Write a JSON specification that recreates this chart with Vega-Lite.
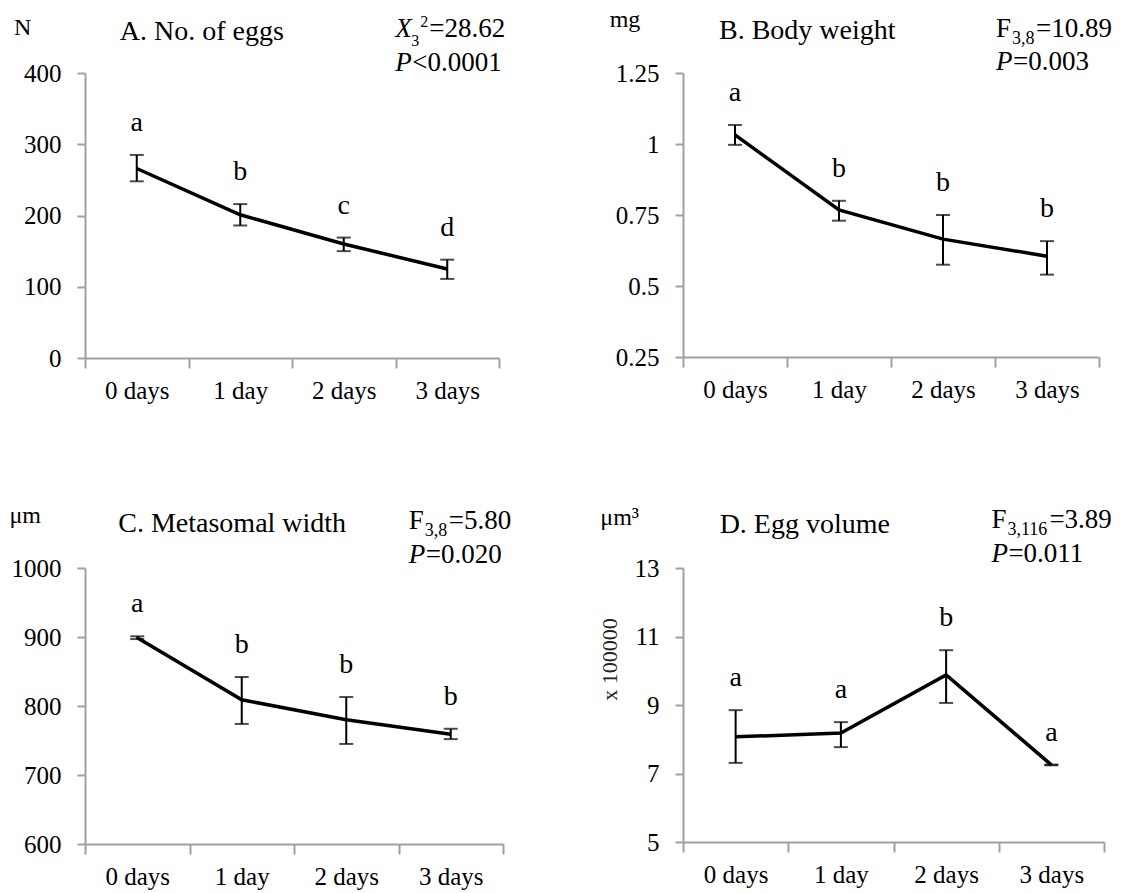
{
  "$schema": "https://vega.github.io/schema/vega-lite/v6.json",
  "background": "white",
  "autosize": {"type": "pad"},
  "padding": {"left": 9, "top": 8, "right": 5, "bottom": 5},
  "columns": 2,
  "align": "none",
  "bounds": "flush",
  "spacing": {"row": 210, "column": 180},
  "config": {
    "font": "Liberation Serif, Times New Roman, Times, serif",
    "view": {"stroke": null},
    "axis": {
      "domainColor": "#a0a0a0", "tickColor": "#a0a0a0", "domainWidth": 2, "tickWidth": 2,
      "labelFont": "Liberation Serif, Times New Roman, Times, serif", "labelFontSize": 25, "labelColor": "#000", "grid": false
    },
    "axisX": {"tickSize": 10, "labelPadding": 10, "labelAngle": 0, "tickBand": "extent"},
    "axisY": {"tickSize": 8, "labelPadding": 16},
    "mark": {"font": "Liberation Serif, Times New Roman, Times, serif"},
    "text": {"font": "Liberation Serif, Times New Roman, Times, serif", "color": "#000"}
  },
  "concat": [
    {
      "width": 414, "height": 285,
      "encoding": {"x": {"field": "day", "type": "ordinal", "scale": {"domain": ["0 days", "1 day", "2 days", "3 days"], "paddingInner": 0, "paddingOuter": 0}, "axis": {"title": null}}},
      "layer": [
        {
          "data": {"values": [
            {"day": "0 days", "mean": 266, "lo": 248, "hi": 285, "grp": "a"},
            {"day": "1 day", "mean": 201, "lo": 186, "hi": 216, "grp": "b"},
            {"day": "2 days", "mean": 160, "lo": 150, "hi": 169, "grp": "c"},
            {"day": "3 days", "mean": 125, "lo": 111, "hi": 138, "grp": "d"}
          ]},
          "layer": [
            {"mark": {"type": "line", "color": "#000", "strokeWidth": 3.5},
             "encoding": {"y": {"field": "mean", "type": "quantitative", "title": null, "scale": {"domain": [0, 400], "nice": false, "zero": false}, "axis": {"values": [0, 100, 200, 300, 400], "format": "d"}}}},
            {"mark": {"type": "rule", "color": "#000", "strokeWidth": 2},
             "encoding": {"y": {"field": "lo", "type": "quantitative", "title": null}, "y2": {"field": "hi"}}},
            {"mark": {"type": "tick", "color": "#000", "thickness": 2, "size": 14},
             "encoding": {"y": {"field": "lo", "type": "quantitative", "title": null}}},
            {"mark": {"type": "tick", "color": "#000", "thickness": 2, "size": 14},
             "encoding": {"y": {"field": "hi", "type": "quantitative", "title": null}}},
            {"mark": {"type": "text", "font": "Liberation Serif, Times New Roman, Times, serif", "fontSize": 28, "baseline": "alphabetic", "dy": -24},
             "encoding": {"y": {"field": "hi", "type": "quantitative", "title": null}, "text": {"field": "grp"}}}
          ]
        },
        {
          "data": {"values": [{"title": "A. No. of eggs", "unit": "N", "sym": "X", "sub": "3", "sup": "2", "stat": "=28.62", "pv": "<0.0001"}]},
          "layer": [
            {"mark": {"type": "text", "font": "Liberation Serif, Times New Roman, Times, serif", "align": "left", "baseline": "alphabetic", "fontSize": 28, "dx": -17, "dy": -33},
             "encoding": {"x": {"datum": "0 days", "type": "ordinal"}, "y": {"datum": 400}, "text": {"field": "title"}}},
            {"mark": {"type": "text", "font": "Liberation Serif, Times New Roman, Times, serif", "align": "center", "baseline": "alphabetic", "fontSize": 24, "dx": -114, "dy": -38},
             "encoding": {"x": {"datum": "0 days", "type": "ordinal"}, "y": {"datum": 400}, "text": {"field": "unit"}}},
            {"mark": {"type": "text", "font": "Liberation Serif, Times New Roman, Times, serif", "align": "left", "baseline": "alphabetic", "fontSize": 27, "fontStyle": "italic", "dx": -52, "dy": -36},
             "encoding": {"x": {"datum": "3 days", "type": "ordinal"}, "y": {"datum": 400}, "text": {"field": "sym"}}},
            {"mark": {"type": "text", "font": "Liberation Serif, Times New Roman, Times, serif", "align": "left", "baseline": "alphabetic", "fontSize": 16, "dx": -36, "dy": -27},
             "encoding": {"x": {"datum": "3 days", "type": "ordinal"}, "y": {"datum": 400}, "text": {"field": "sub"}}},
            {"mark": {"type": "text", "font": "Liberation Serif, Times New Roman, Times, serif", "align": "left", "baseline": "alphabetic", "fontSize": 16, "dx": -27, "dy": -46},
             "encoding": {"x": {"datum": "3 days", "type": "ordinal"}, "y": {"datum": 400}, "text": {"field": "sup"}}},
            {"mark": {"type": "text", "font": "Liberation Serif, Times New Roman, Times, serif", "align": "left", "baseline": "alphabetic", "fontSize": 27, "dx": -18, "dy": -36},
             "encoding": {"x": {"datum": "3 days", "type": "ordinal"}, "y": {"datum": 400}, "text": {"field": "stat"}}},
            {"mark": {"type": "text", "font": "Liberation Serif, Times New Roman, Times, serif", "align": "left", "baseline": "alphabetic", "fontSize": 27, "fontStyle": "italic", "dx": -52, "dy": -2},
             "encoding": {"x": {"datum": "3 days", "type": "ordinal"}, "y": {"datum": 400}, "text": {"value": "P"}}},
            {"mark": {"type": "text", "font": "Liberation Serif, Times New Roman, Times, serif", "align": "left", "baseline": "alphabetic", "fontSize": 27, "dx": -35, "dy": -2},
             "encoding": {"x": {"datum": "3 days", "type": "ordinal"}, "y": {"datum": 400}, "text": {"field": "pv"}}}
          ]
        }
      ]
    },
    {
      "width": 416, "height": 284,
      "encoding": {"x": {"field": "day", "type": "ordinal", "scale": {"domain": ["0 days", "1 day", "2 days", "3 days"], "paddingInner": 0, "paddingOuter": 0}, "axis": {"title": null}}},
      "layer": [
        {
          "data": {"values": [
            {"day": "0 days", "mean": 1.032, "lo": 0.997, "hi": 1.067, "grp": "a"},
            {"day": "1 day", "mean": 0.768, "lo": 0.73, "hi": 0.8, "grp": "b"},
            {"day": "2 days", "mean": 0.665, "lo": 0.575, "hi": 0.75, "grp": "b"},
            {"day": "3 days", "mean": 0.605, "lo": 0.54, "hi": 0.658, "grp": "b"}
          ]},
          "layer": [
            {"mark": {"type": "line", "color": "#000", "strokeWidth": 3.5},
             "encoding": {"y": {"field": "mean", "type": "quantitative", "title": null, "scale": {"domain": [0.25, 1.25], "nice": false, "zero": false}, "axis": {"values": [0.25, 0.5, 0.75, 1, 1.25], "format": ".3~g"}}}},
            {"mark": {"type": "rule", "color": "#000", "strokeWidth": 2},
             "encoding": {"y": {"field": "lo", "type": "quantitative", "title": null}, "y2": {"field": "hi"}}},
            {"mark": {"type": "tick", "color": "#000", "thickness": 2, "size": 14},
             "encoding": {"y": {"field": "lo", "type": "quantitative", "title": null}}},
            {"mark": {"type": "tick", "color": "#000", "thickness": 2, "size": 14},
             "encoding": {"y": {"field": "hi", "type": "quantitative", "title": null}}},
            {"mark": {"type": "text", "font": "Liberation Serif, Times New Roman, Times, serif", "fontSize": 28, "baseline": "alphabetic", "dy": -24},
             "encoding": {"y": {"field": "hi", "type": "quantitative", "title": null}, "text": {"field": "grp"}}}
          ]
        },
        {
          "data": {"values": [{"title": "B. Body weight", "unit": "mg", "sym": "F", "sub": "3,8", "stat": "=10.89", "pv": "=0.003"}]},
          "layer": [
            {"mark": {"type": "text", "font": "Liberation Serif, Times New Roman, Times, serif", "align": "left", "baseline": "alphabetic", "fontSize": 28, "dx": -16, "dy": -34},
             "encoding": {"x": {"datum": "0 days", "type": "ordinal"}, "y": {"datum": 1.25}, "text": {"field": "title"}}},
            {"mark": {"type": "text", "font": "Liberation Serif, Times New Roman, Times, serif", "align": "center", "baseline": "alphabetic", "fontSize": 24, "dx": -110, "dy": -46},
             "encoding": {"x": {"datum": "0 days", "type": "ordinal"}, "y": {"datum": 1.25}, "text": {"field": "unit"}}},
            {"mark": {"type": "text", "font": "Liberation Serif, Times New Roman, Times, serif", "align": "left", "baseline": "alphabetic", "fontSize": 27, "dx": -51, "dy": -36},
             "encoding": {"x": {"datum": "3 days", "type": "ordinal"}, "y": {"datum": 1.25}, "text": {"field": "sym"}}},
            {"mark": {"type": "text", "font": "Liberation Serif, Times New Roman, Times, serif", "align": "left", "baseline": "alphabetic", "fontSize": 18, "dx": -35, "dy": -29},
             "encoding": {"x": {"datum": "3 days", "type": "ordinal"}, "y": {"datum": 1.25}, "text": {"field": "sub"}}},
            {"mark": {"type": "text", "font": "Liberation Serif, Times New Roman, Times, serif", "align": "left", "baseline": "alphabetic", "fontSize": 27, "dx": -11, "dy": -36},
             "encoding": {"x": {"datum": "3 days", "type": "ordinal"}, "y": {"datum": 1.25}, "text": {"field": "stat"}}},
            {"mark": {"type": "text", "font": "Liberation Serif, Times New Roman, Times, serif", "align": "left", "baseline": "alphabetic", "fontSize": 27, "fontStyle": "italic", "dx": -51, "dy": -3},
             "encoding": {"x": {"datum": "3 days", "type": "ordinal"}, "y": {"datum": 1.25}, "text": {"value": "P"}}},
            {"mark": {"type": "text", "font": "Liberation Serif, Times New Roman, Times, serif", "align": "left", "baseline": "alphabetic", "fontSize": 27, "dx": -34, "dy": -3},
             "encoding": {"x": {"datum": "3 days", "type": "ordinal"}, "y": {"datum": 1.25}, "text": {"field": "pv"}}}
          ]
        }
      ]
    },
    {
      "width": 418, "height": 276,
      "encoding": {"x": {"field": "day", "type": "ordinal", "scale": {"domain": ["0 days", "1 day", "2 days", "3 days"], "paddingInner": 0, "paddingOuter": 0}, "axis": {"title": null}}},
      "layer": [
        {
          "data": {"values": [
            {"day": "0 days", "mean": 899, "lo": 897, "hi": 901, "grp": "a"},
            {"day": "1 day", "mean": 809, "lo": 774, "hi": 842, "grp": "b"},
            {"day": "2 days", "mean": 780, "lo": 745, "hi": 813, "grp": "b"},
            {"day": "3 days", "mean": 759, "lo": 752, "hi": 767, "grp": "b"}
          ]},
          "layer": [
            {"mark": {"type": "line", "color": "#000", "strokeWidth": 3.5},
             "encoding": {"y": {"field": "mean", "type": "quantitative", "title": null, "scale": {"domain": [600, 1000], "nice": false, "zero": false}, "axis": {"values": [600, 700, 800, 900, 1000], "format": "d"}}}},
            {"mark": {"type": "rule", "color": "#000", "strokeWidth": 2},
             "encoding": {"y": {"field": "lo", "type": "quantitative", "title": null}, "y2": {"field": "hi"}}},
            {"mark": {"type": "tick", "color": "#000", "thickness": 2, "size": 14},
             "encoding": {"y": {"field": "lo", "type": "quantitative", "title": null}}},
            {"mark": {"type": "tick", "color": "#000", "thickness": 2, "size": 14},
             "encoding": {"y": {"field": "hi", "type": "quantitative", "title": null}}},
            {"mark": {"type": "text", "font": "Liberation Serif, Times New Roman, Times, serif", "fontSize": 28, "baseline": "alphabetic", "dy": -24},
             "encoding": {"y": {"field": "hi", "type": "quantitative", "title": null}, "text": {"field": "grp"}}}
          ]
        },
        {
          "data": {"values": [{"title": "C. Metasomal width", "unit": "μm", "sym": "F", "sub": "3,8", "stat": "=5.80", "pv": "=0.020"}]},
          "layer": [
            {"mark": {"type": "text", "font": "Liberation Serif, Times New Roman, Times, serif", "align": "left", "baseline": "alphabetic", "fontSize": 28, "dx": -19, "dy": -36},
             "encoding": {"x": {"datum": "0 days", "type": "ordinal"}, "y": {"datum": 1000}, "text": {"field": "title"}}},
            {"mark": {"type": "text", "font": "Liberation Serif, Times New Roman, Times, serif", "align": "center", "baseline": "alphabetic", "fontSize": 24, "dx": -112, "dy": -45},
             "encoding": {"x": {"datum": "0 days", "type": "ordinal"}, "y": {"datum": 1000}, "text": {"field": "unit"}}},
            {"mark": {"type": "text", "font": "Liberation Serif, Times New Roman, Times, serif", "align": "left", "baseline": "alphabetic", "fontSize": 27, "dx": -42, "dy": -39},
             "encoding": {"x": {"datum": "3 days", "type": "ordinal"}, "y": {"datum": 1000}, "text": {"field": "sym"}}},
            {"mark": {"type": "text", "font": "Liberation Serif, Times New Roman, Times, serif", "align": "left", "baseline": "alphabetic", "fontSize": 18, "dx": -26, "dy": -32},
             "encoding": {"x": {"datum": "3 days", "type": "ordinal"}, "y": {"datum": 1000}, "text": {"field": "sub"}}},
            {"mark": {"type": "text", "font": "Liberation Serif, Times New Roman, Times, serif", "align": "left", "baseline": "alphabetic", "fontSize": 27, "dx": -2, "dy": -39},
             "encoding": {"x": {"datum": "3 days", "type": "ordinal"}, "y": {"datum": 1000}, "text": {"field": "stat"}}},
            {"mark": {"type": "text", "font": "Liberation Serif, Times New Roman, Times, serif", "align": "left", "baseline": "alphabetic", "fontSize": 27, "fontStyle": "italic", "dx": -42, "dy": -5},
             "encoding": {"x": {"datum": "3 days", "type": "ordinal"}, "y": {"datum": 1000}, "text": {"value": "P"}}},
            {"mark": {"type": "text", "font": "Liberation Serif, Times New Roman, Times, serif", "align": "left", "baseline": "alphabetic", "fontSize": 27, "dx": -25, "dy": -5},
             "encoding": {"x": {"datum": "3 days", "type": "ordinal"}, "y": {"datum": 1000}, "text": {"field": "pv"}}}
          ]
        }
      ]
    },
    {
      "width": 421, "height": 274,
      "encoding": {"x": {"field": "day", "type": "ordinal", "scale": {"domain": ["0 days", "1 day", "2 days", "3 days"], "paddingInner": 0, "paddingOuter": 0}, "axis": {"title": null}}},
      "layer": [
        {
          "data": {"values": [
            {"day": "0 days", "mean": 8.07, "lo": 7.31, "hi": 8.85, "grp": "a"},
            {"day": "1 day", "mean": 8.18, "lo": 7.77, "hi": 8.5, "grp": "a"},
            {"day": "2 days", "mean": 9.88, "lo": 9.06, "hi": 10.6, "grp": "b"},
            {"day": "3 days", "mean": 7.25, "lo": 7.24, "hi": 7.26, "grp": "a"}
          ]},
          "layer": [
            {"mark": {"type": "line", "color": "#000", "strokeWidth": 3.5},
             "encoding": {"y": {"field": "mean", "type": "quantitative", "title": "x 100000", "scale": {"domain": [5, 13], "nice": false, "zero": false}, "axis": {"values": [5, 7, 9, 11, 13], "format": "d", "titleAngle": 270, "titleX": -74, "titleY": 91, "titleAlign": "center", "titleBaseline": "middle", "titleFontSize": 22, "titleFontWeight": "normal", "titleFont": "Liberation Serif, Times New Roman, Times, serif", "titleColor": "#222"}}}},
            {"mark": {"type": "rule", "color": "#000", "strokeWidth": 2},
             "encoding": {"y": {"field": "lo", "type": "quantitative", "title": "x 100000"}, "y2": {"field": "hi"}}},
            {"mark": {"type": "tick", "color": "#000", "thickness": 2, "size": 14},
             "encoding": {"y": {"field": "lo", "type": "quantitative", "title": "x 100000"}}},
            {"mark": {"type": "tick", "color": "#000", "thickness": 2, "size": 14},
             "encoding": {"y": {"field": "hi", "type": "quantitative", "title": "x 100000"}}},
            {"mark": {"type": "text", "font": "Liberation Serif, Times New Roman, Times, serif", "fontSize": 28, "baseline": "alphabetic", "dy": -24},
             "encoding": {"y": {"field": "hi", "type": "quantitative", "title": "x 100000"}, "text": {"field": "grp"}}}
          ]
        },
        {
          "data": {"values": [{"title": "D. Egg volume", "unit": "μm³", "sym": "F", "sub": "3,116", "stat": "=3.89", "pv": "=0.011"}]},
          "layer": [
            {"mark": {"type": "text", "font": "Liberation Serif, Times New Roman, Times, serif", "align": "left", "baseline": "alphabetic", "fontSize": 28, "dx": -16, "dy": -35},
             "encoding": {"x": {"datum": "0 days", "type": "ordinal"}, "y": {"datum": 13}, "text": {"field": "title"}}},
            {"mark": {"type": "text", "font": "Liberation Serif, Times New Roman, Times, serif", "align": "center", "baseline": "alphabetic", "fontSize": 24, "dx": -116, "dy": -43},
             "encoding": {"x": {"datum": "0 days", "type": "ordinal"}, "y": {"datum": 13}, "text": {"field": "unit"}}},
            {"mark": {"type": "text", "font": "Liberation Serif, Times New Roman, Times, serif", "align": "left", "baseline": "alphabetic", "fontSize": 27, "dx": -60, "dy": -40},
             "encoding": {"x": {"datum": "3 days", "type": "ordinal"}, "y": {"datum": 13}, "text": {"field": "sym"}}},
            {"mark": {"type": "text", "font": "Liberation Serif, Times New Roman, Times, serif", "align": "left", "baseline": "alphabetic", "fontSize": 18, "dx": -44, "dy": -33},
             "encoding": {"x": {"datum": "3 days", "type": "ordinal"}, "y": {"datum": 13}, "text": {"field": "sub"}}},
            {"mark": {"type": "text", "font": "Liberation Serif, Times New Roman, Times, serif", "align": "left", "baseline": "alphabetic", "fontSize": 27, "dx": -2, "dy": -40},
             "encoding": {"x": {"datum": "3 days", "type": "ordinal"}, "y": {"datum": 13}, "text": {"field": "stat"}}},
            {"mark": {"type": "text", "font": "Liberation Serif, Times New Roman, Times, serif", "align": "left", "baseline": "alphabetic", "fontSize": 27, "fontStyle": "italic", "dx": -60, "dy": -6},
             "encoding": {"x": {"datum": "3 days", "type": "ordinal"}, "y": {"datum": 13}, "text": {"value": "P"}}},
            {"mark": {"type": "text", "font": "Liberation Serif, Times New Roman, Times, serif", "align": "left", "baseline": "alphabetic", "fontSize": 27, "dx": -43, "dy": -6},
             "encoding": {"x": {"datum": "3 days", "type": "ordinal"}, "y": {"datum": 13}, "text": {"field": "pv"}}}
          ]
        }
      ]
    }
  ]
}
